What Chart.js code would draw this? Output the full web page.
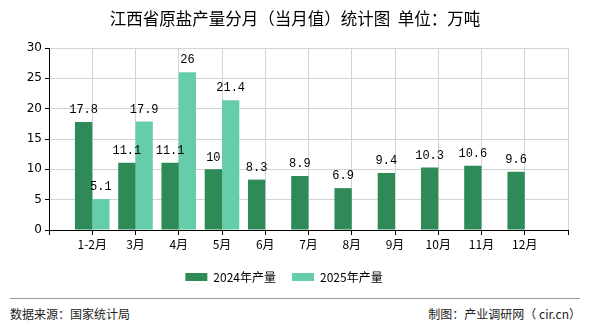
<!DOCTYPE html>
<html>
<head>
<meta charset="utf-8">
<script src="https://cdn.jsdelivr.net/npm/chart.js@4.4.1/dist/chart.umd.min.js"></script>
<style>
  body { margin: 0; background: #fff; width: 590px; height: 330px; position: relative; overflow: hidden; font-family: "Noto Sans CJK SC", sans-serif; }
  #title { position: absolute; left: 0; width: 590px; top: 7px; text-align: center; font-size: 16.5px; line-height: 22px; color: #000; }
  #wrap { position: absolute; left: 0; top: 0; width: 590px; height: 295px; }
  #rule { position: absolute; left: 10px; width: 570px; top: 298px; border-top: 1px solid #999; }
  .foot { position: absolute; top: 306px; font-size: 12px; color: #222; line-height: 16px; }
</style>
</head>
<body>
<div id="wrap"><canvas id="chart1"></canvas></div>
<div id="title">江西省原盐产量分月（当月值）统计图&nbsp;&nbsp;单位：万吨</div>
<div id="rule"></div>
<div class="foot" style="left:10px">数据来源：国家统计局</div>
<div class="foot" style="right:9px">制图：产业调研网（ cir.cn）</div>
<script>
const months = ["1-2月", "3月", "4月", "5月", "6月", "7月", "8月", "9月", "10月", "11月", "12月"];
const output2024 = [17.8, 11.1, 11.1, 10, 8.3, 8.9, 6.9, 9.4, 10.3, 10.6, 9.6];
const output2025 = [5.1, 17.9, 26, 21.4, null, null, null, null, null, null, null];
const yTicks = [0, 5, 10, 15, 20, 25, 30];

// empty slot on each side, like the original axis
const pad = (arr, blank) => [blank, ...arr, blank];

const barValues = {
  id: "barValues",
  afterDatasetsDraw(chart) {
    const c = chart.ctx;
    c.save();
    c.font = '12px "Liberation Mono", monospace';
    c.fillStyle = "#000";
    c.textAlign = "center";
    c.textBaseline = "bottom";
    chart.data.datasets.forEach((ds, i) => {
      chart.getDatasetMeta(i).data.forEach((bar, j) => {
        const v = ds.data[j];
        if (v == null) return;
        c.fillText(String(v), bar.x, bar.y - 6);
      });
    });
    c.restore();
  }
};

const ctx = document.getElementById("chart1");

new Chart(ctx, {
  type: "bar",
  data: {
    labels: pad(months, ""),
    datasets: [
      {
        label: "2024年产量",
        data: pad(output2024, null),
        backgroundColor: "#2E8B57",
      },
      {
        label: "2025年产量",
        data: pad(output2025, null),
        backgroundColor: "#66CDAA",
      },
    ],
  },
  plugins: [barValues],
  options: {
    responsive: true,
    maintainAspectRatio: false,
    animation: false,
    layout: { padding: { left: 0, right: 22, top: 48, bottom: 2 } },
    datasets: {
      bar: { categoryPercentage: 0.8, barPercentage: 1 },
    },
    scales: {
      x: {
        offset: false,
        grid: { color: "#d3d3d3", tickColor: "#000", tickLength: 5, offset: false },
        border: { color: "#000" },
        ticks: {
          color: "#000",
          font: { size: 12, family: '"Noto Sans CJK SC"' },
          autoSkip: false,
          maxRotation: 0,
          padding: 2,
        },
        afterFit(scale) { scale.height = 25; },
      },
      y: {
        min: yTicks[0],
        max: yTicks[yTicks.length - 1],
        afterBuildTicks(scale) { scale.ticks = yTicks.map(v => ({ value: v })); },
        grid: { color: "#d3d3d3", tickColor: "#000", tickLength: 4 },
        border: { color: "#000" },
        ticks: {
          color: "#000",
          font: { size: 12, family: '"DejaVu Sans"' },
          padding: 3,
        },
        afterFit(scale) { scale.width = 49; },
      },
    },
    plugins: {
      title: { display: false },
      legend: {
        position: "bottom",
        labels: {
          boxWidth: 22,
          boxHeight: 8,
          padding: 16,
          color: "#000",
          font: { size: 12, family: '"Noto Sans CJK SC"' },
        },
      },
      tooltip: { enabled: false },
    },
  },
});
</script>
</body>
</html>
